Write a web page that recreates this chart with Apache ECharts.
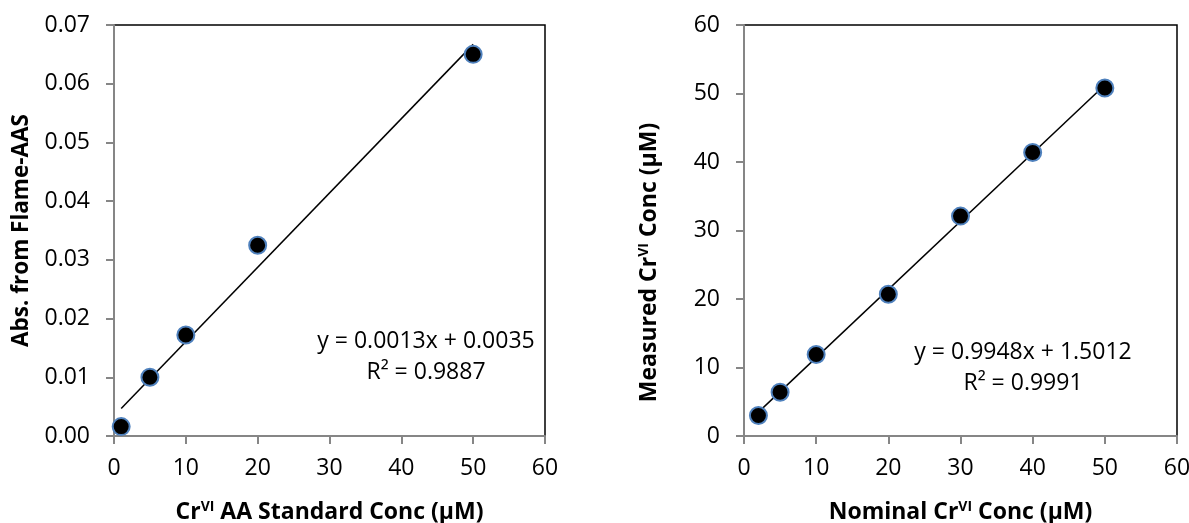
<!DOCTYPE html>
<html>
<head>
<meta charset="utf-8">
<script src="https://cdn.jsdelivr.net/npm/echarts@6/dist/echarts.min.js"></script>
<style>
    html, body { margin: 0; padding: 0; background: #fff; }
    #chart { width: 1189px; height: 523px; }
</style>
</head>
<body>
<div id="chart"></div>
<script>
// left panel: AA standards
const aaConc = [1, 5, 10, 20, 50];
const aaAbs = [0.0016, 0.0100, 0.0172, 0.0325, 0.0650];
const aaTrendX = [1, 50];
const aaTrendY = [0.0047, 0.0667];

// right panel: nominal vs measured
const nominalConc = [2, 5, 10, 20, 30, 40, 50];
const measuredConc = [3.0, 6.4, 11.9, 20.7, 32.1, 41.4, 50.8];
const nomTrendX = [2, 50];
const nomTrendY = [3.49, 51.24];

const absTicks = ['0.00', '0.01', '0.02', '0.03', '0.04', '0.05', '0.06', '0.07'];

const FONT = 'Open Sans';
const axisGray = '#868686';

function pairs(xs, ys) {
    return xs.map((x, i) => [x, ys[i]]);
}

function titleStyle(size, extra) {
    return Object.assign({
        fontFamily: FONT, fontSize: size, fontWeight: 'bold', color: '#000',
        rich: {
            b: { fontFamily: FONT, fontSize: size, fontWeight: 'bold', color: '#000' },
            sup: { fontFamily: FONT, fontSize: Math.round(size * 0.6), fontWeight: 'bold', color: '#000', verticalAlign: 'top', padding: [0, 0, 11, 0] }
        }
    }, extra || {});
}

function xAxisFor(gridIndex, name) {
    return {
        gridIndex: gridIndex,
        type: 'value',
        min: 0,
        max: 60,
        interval: 10,
        name: name,
        nameLocation: 'middle',
        nameGap: 64,
        nameTextStyle: titleStyle(23),
        axisLine: { show: true, onZero: false, lineStyle: { color: axisGray, width: 2 } },
        axisTick: { show: true, inside: false, length: 8, lineStyle: { color: axisGray, width: 2 } },
        axisLabel: { margin: 21, fontFamily: FONT, fontSize: 23, color: '#000' },
        splitLine: { show: false }
    };
}

const chart = echarts.init(document.getElementById('chart'));

const option = {
    animation: false,
    backgroundColor: '#fff',
    grid: [
        { left: 114, right: 644, top: 25, bottom: 87, outerBoundsMode: 'none', show: true, borderColor: '#000', borderWidth: 1.5 },
        { left: 744, right: 12, top: 25, bottom: 87, outerBoundsMode: 'none', show: true, borderColor: '#000', borderWidth: 1.5 }
    ],
    xAxis: [
        xAxisFor(0, '{b|Cr}{sup|VI}{b| AA Standard Conc (μM)}'),
        xAxisFor(1, '{b|Nominal Cr}{sup|VI}{b| Conc (μM)}')
    ],
    yAxis: [
        {
            gridIndex: 0,
            type: 'value',
            min: 0,
            max: 0.07,
            interval: 0.01,
            name: 'Abs. from Flame-AAS',
            nameLocation: 'middle',
            nameGap: 81,
            nameTextStyle: { fontFamily: FONT, fontSize: 22.5, fontWeight: 'bold', color: '#000' },
            axisLine: { show: true, onZero: false, lineStyle: { color: axisGray, width: 2 } },
            axisTick: { show: true, length: 8, lineStyle: { color: axisGray, width: 2 } },
            axisLabel: {
                margin: 24, fontFamily: FONT, fontSize: 23, color: '#000',
                formatter: (v) => absTicks[Math.round(v * 100)]
            },
            splitLine: { show: false }
        },
        {
            gridIndex: 1,
            type: 'value',
            min: 0,
            max: 60,
            interval: 10,
            name: '{b|Measured Cr}{sup|VI}{b| Conc (μM)}',
            nameLocation: 'middle',
            nameGap: 82,
            nameTextStyle: titleStyle(23, { padding: [0, 64, 0, 0] }),
            axisLine: { show: true, onZero: false, lineStyle: { color: axisGray, width: 2 } },
            axisTick: { show: true, length: 8, lineStyle: { color: axisGray, width: 2 } },
            axisLabel: { margin: 24, fontFamily: FONT, fontSize: 23, color: '#000' },
            splitLine: { show: false }
        }
    ],
    series: [
        {
            type: 'line',
            xAxisIndex: 0, yAxisIndex: 0,
            data: pairs(aaTrendX, aaTrendY),
            symbol: 'none',
            lineStyle: { color: '#000', width: 1.5 },
            z: 2
        },
        {
            type: 'scatter',
            xAxisIndex: 0, yAxisIndex: 0,
            data: pairs(aaConc, aaAbs),
            symbolSize: 17,
            itemStyle: { color: '#000', borderColor: '#4F81BD', borderWidth: 2, opacity: 1 },
            z: 3
        },
        {
            type: 'line',
            xAxisIndex: 1, yAxisIndex: 1,
            data: pairs(nomTrendX, nomTrendY),
            symbol: 'none',
            lineStyle: { color: '#000', width: 1.5 },
            z: 2
        },
        {
            type: 'scatter',
            xAxisIndex: 1, yAxisIndex: 1,
            data: pairs(nominalConc, measuredConc),
            symbolSize: 17,
            itemStyle: { color: '#000', borderColor: '#4F81BD', borderWidth: 2, opacity: 1 },
            z: 3
        }
    ],
    graphic: [
        { type: 'text', x: 426, y: 341, style: { text: 'y = 0.0013x + 0.0035', font: '23px "Open Sans"', fill: '#000', align: 'center', verticalAlign: 'middle' } },
        { type: 'text', x: 426, y: 372, style: { text: 'R² = 0.9887', font: '23px "Open Sans"', fill: '#000', align: 'center', verticalAlign: 'middle' } },
        { type: 'text', x: 1023, y: 352, style: { text: 'y = 0.9948x + 1.5012', font: '23px "Open Sans"', fill: '#000', align: 'center', verticalAlign: 'middle' } },
        { type: 'text', x: 1023, y: 383, style: { text: 'R² = 0.9991', font: '23px "Open Sans"', fill: '#000', align: 'center', verticalAlign: 'middle' } }
    ]
};

chart.setOption(option);
</script>
</body>
</html>
